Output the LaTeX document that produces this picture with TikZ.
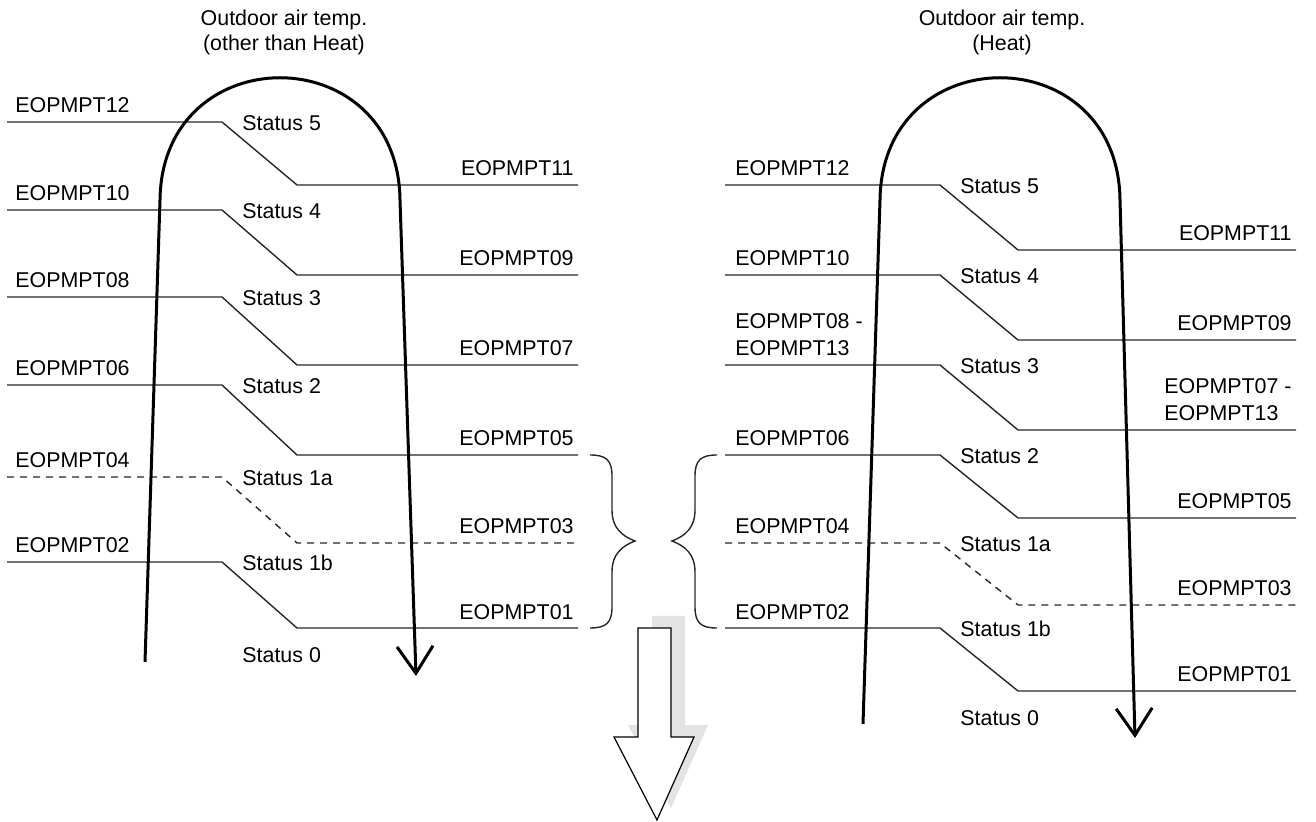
\documentclass[tikz,border=0pt]{standalone}
\usepackage{fontspec}
\setmainfont{Liberation Sans}
\usetikzlibrary{arrows.meta}
\begin{document}
\begin{tikzpicture}[x=0.5pt,y=-0.5pt,
  lbl/.style={inner sep=0pt, font=\fontsize{10.7}{12.8}\selectfont},
  levelline/.style={line width=0.7pt, draw=black!85},
  dashline/.style={dash pattern=on 3.5pt off 3pt},
  loopline/.style={line width=1.5pt, -{Straight Barb[length=13.5pt,width=18pt]}},
  braceline/.style={line width=0.7pt, draw=black!85},
  bigarrow/.style={line width=0.6pt, draw=black, fill=white},
  shadow/.style={fill=black!11, draw=none}]
\useasboundingbox (0,0) rectangle (1316,822);

% ---------- titles ----------
\node[lbl,anchor=base] (tl1) at (284,26) {Outdoor air temp.};
\node[lbl,anchor=base] (tl2) at (284,51) {(other than Heat)};
\node[lbl,anchor=base] (tr1) at (1002,26) {Outdoor air temp.};
\node[lbl,anchor=base] (tr2) at (1002,51) {(Heat)};

% ---------- left panel ----------
\foreach \yl/\yr/\ll/\rl/\st/\ds [count=\i] in
  {122/185/EOPMPT12/EOPMPT11/5/solid,
   210/275/EOPMPT10/EOPMPT09/4/solid,
   297/365/EOPMPT08/EOPMPT07/3/solid,
   385/455/EOPMPT06/EOPMPT05/2/solid,
   477/543/EOPMPT04/EOPMPT03/1a/dashline,
   562/628/EOPMPT02/EOPMPT01/1b/solid}{
  \draw[levelline,\ds] (7,\yl) -- (222,\yl) -- (297,\yr) -- (578,\yr);
  \node[lbl,anchor=base west] (LL\i) at (15,{\yl-9}) {\ll};
  \node[lbl,anchor=base east] (LR\i) at (574,{\yr-9}) {\rl};
  \node[lbl,anchor=base west] (LS\i) at (242,{\yl+9}) {Status \st};
}
\node[lbl,anchor=base west] (LS0) at (242,662) {Status 0};

\draw[loopline] (145,662) -- (160,200) .. controls (162,37) and (398,37) .. (400,200) -- (416,676);

% ---------- right panel ----------
\foreach \yl/\yr/\st/\ds [count=\i] in
  {185/250/5/solid,
   275/340/4/solid,
   365/430/3/solid,
   455/518/2/solid,
   543/605/1a/dashline,
   628/691/1b/solid}{
  \draw[levelline,\ds] (725,\yl) -- (940,\yl) -- (1018,\yr) -- (1296,\yr);
  \node[lbl,anchor=base west] (RS\i) at (960,{\yl+9}) {Status \st};
}
\node[lbl,anchor=base west] (RS0) at (960,725) {Status 0};

\foreach \yl/\yr/\ll/\rl/\i in
  {185/250/EOPMPT12/EOPMPT11/1,
   275/340/EOPMPT10/EOPMPT09/2,
   455/518/EOPMPT06/EOPMPT05/4,
   543/605/EOPMPT04/EOPMPT03/5,
   628/691/EOPMPT02/EOPMPT01/6}{
  \node[lbl,anchor=base west] (RL\i) at (735,{\yl-9}) {\ll};
  \node[lbl,anchor=base east] (RR\i) at (1292,{\yr-9}) {\rl};
}
\node[lbl,anchor=base west] (RL3a) at (735,329) {EOPMPT08 -};
\node[lbl,anchor=base west] (RL3b) at (735,356) {EOPMPT13};
\node[lbl,anchor=base east] (RR3a) at (1292,394) {EOPMPT07 -};
\node[lbl,anchor=base west] (RR3b) at ([yshift=-13.5pt]RR3a.base west) {EOPMPT13};

\draw[loopline] (863,724) -- (880,200) .. controls (882,37) and (1118,37) .. (1120,200) -- (1135,738);

% ---------- braces ----------
\draw[braceline] (590,455) .. controls (606,455) and (612,460) .. (612,476)
  -- (612,510) .. controls (612,528) and (622,536) .. (635,541)
  .. controls (622,546) and (612,554) .. (612,572)
  -- (612,607) .. controls (612,623) and (606,628) .. (590,628);
\draw[braceline] (717,455) .. controls (701,455) and (695,460) .. (695,476)
  -- (695,510) .. controls (695,528) and (685,536) .. (672,541)
  .. controls (685,546) and (695,554) .. (695,572)
  -- (695,607) .. controls (695,623) and (701,628) .. (717,628);

% ---------- big arrow ----------
\fill[shadow] (652,616) -- (685,616) -- (685,725) -- (708,725) -- (671,808)
  -- (628,725) -- (652,725) -- cycle;
\draw[bigarrow] (638,628) -- (671,628) -- (671,737) -- (694,737) -- (657,820)
  -- (614,737) -- (638,737) -- cycle;
\end{tikzpicture}
\end{document}
